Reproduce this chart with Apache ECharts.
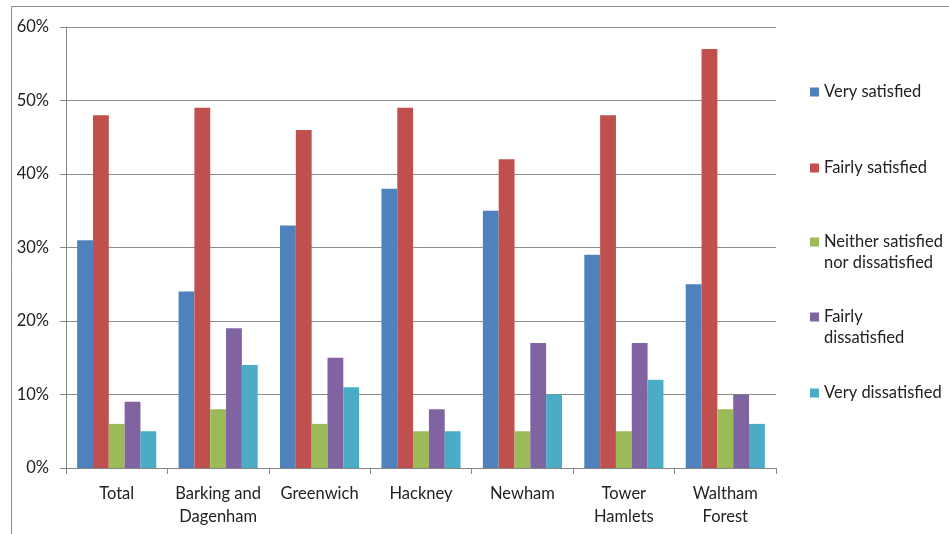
<!DOCTYPE html>
<html>
<head>
<meta charset="utf-8">
<script src="https://cdn.jsdelivr.net/npm/echarts@6/dist/echarts.min.js"></script>
<style>
  html, body { margin: 0; padding: 0; background: #fff; }
  #chart { width: 949px; height: 534px; }
</style>
</head>
<body>
<div id="chart"></div>
<script>
// Satisfaction survey by borough (percent of respondents)
const boroughs = ['Total', 'Barking and\nDagenham', 'Greenwich', 'Hackney', 'Newham', 'Tower\nHamlets', 'Waltham\nForest'];
const seriesNames = ['Very satisfied', 'Fairly satisfied', 'Neither satisfied nor dissatisfied', 'Fairly dissatisfied', 'Very dissatisfied'];
const legendLabels = ['Very satisfied', 'Fairly satisfied', 'Neither satisfied\nnor dissatisfied', 'Fairly\ndissatisfied', 'Very dissatisfied'];
const verySatisfied      = [31, 24, 33, 38, 35, 29, 25];
const fairlySatisfied    = [48, 49, 46, 49, 42, 48, 57];
const neither            = [6, 8, 6, 5, 5, 5, 8];
const fairlyDissatisfied = [9, 19, 15, 8, 17, 17, 10];
const veryDissatisfied   = [5, 14, 11, 5, 10, 12, 6];
const yTicks = [0, 10, 20, 30, 40, 50, 60];

const values = [verySatisfied, fairlySatisfied, neither, fairlyDissatisfied, veryDissatisfied];
const colors = ['#4F81BD', '#C0504D', '#9BBB59', '#8064A2', '#4BACC6'];
const font = 'Lato, "Open Sans", sans-serif';
const legendLine = 21;

// one legend block per series so every entry sits at its own height;
// wrapped entries get an empty leading line so the swatch lines up with the first line
const legendCentres = [92, 168, 242, 317, 393];
const legends = seriesNames.map((name, i) => {
  const twoLines = legendLabels[i].indexOf('\n') >= 0;
  const label = twoLines ? '\n' + legendLabels[i] : legendLabels[i];
  const lines = twoLines ? 3 : 1;
  return {
    show: true,
    data: [name],
    left: 810,
    top: legendCentres[i] - lines * legendLine / 2,
    padding: 0,
    orient: 'vertical',
    itemWidth: 9,
    itemHeight: 9,
    itemGap: 0,
    icon: 'rect',
    selectedMode: false,
    formatter: () => label,
    textStyle: {
      fontFamily: font,
      fontSize: 16.5,
      color: '#222',
      lineHeight: legendLine
    }
  };
});

const chart = echarts.init(document.getElementById('chart'), null, { renderer: 'canvas' });
chart.setOption({
  animation: false,
  backgroundColor: '#fff',
  graphic: [{
    type: 'rect',
    shape: { x: 11.5, y: 6.5, width: 1000, height: 600 },
    style: { fill: 'none', stroke: '#8c8c8c', lineWidth: 1 },
    z: -1
  }],
  grid: { left: 66, right: 173, top: 27, bottom: 66 },
  legend: legends,
  xAxis: {
    type: 'category',
    data: boroughs,
    axisLine: { lineStyle: { color: '#868686', width: 1 } },
    axisTick: { show: true, alignWithLabel: false, length: 6, lineStyle: { color: '#868686' } },
    axisLabel: {
      fontFamily: font, fontSize: 16.5, color: '#222', lineHeight: 23, margin: 14, interval: 0
    }
  },
  yAxis: {
    type: 'value',
    min: 0, max: 60, interval: 10,
    axisLine: { show: true, lineStyle: { color: '#868686', width: 1 } },
    axisTick: { show: true, length: 6, lineStyle: { color: '#868686' } },
    axisLabel: {
      fontFamily: font, fontSize: 16.5, color: '#222', margin: 17,
      formatter: v => (yTicks.indexOf(v) >= 0 ? v + '%' : '')
    },
    splitLine: { lineStyle: { color: '#8c8c8c', width: 1 } }
  },
  series: seriesNames.map((name, i) => ({
    name: name,
    type: 'bar',
    data: values[i],
    barGap: '0%',
    barCategoryGap: '22%',
    itemStyle: { color: colors[i] }
  }))
});
</script>
</body>
</html>
